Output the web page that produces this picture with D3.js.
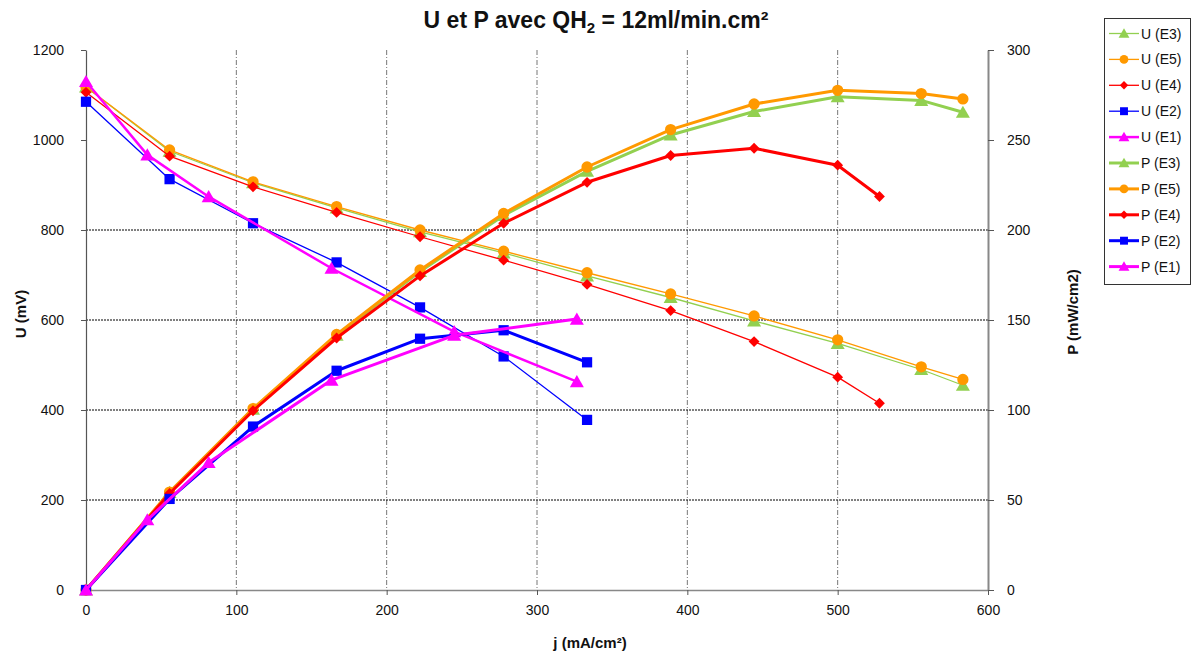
<!DOCTYPE html>
<html><head><meta charset="utf-8">
<script src="https://cdn.jsdelivr.net/npm/d3@7"></script>
<style>
body{margin:0;background:#fff;}
svg{display:block;font-family:"Liberation Sans",Arial,sans-serif;}
</style></head>
<body><svg id="c" width="1193" height="654"></svg>
<script>
// ---- data ----
const xE35 = [0, 55.6, 111.1, 166.7, 222.2, 277.8, 333.3, 388.9, 444.4, 500, 555.6, 583.3];
const xE4  = [0, 55.6, 111.1, 166.7, 222.2, 277.8, 333.3, 388.9, 444.4, 500, 527.8];
const xE2  = [0, 55.6, 111.1, 166.7, 222.2, 277.8, 333.3];
const xE1  = [0, 40.8, 81.6, 163.3, 244.9, 326.5];

const uE3 = [1118, 975, 905, 849, 796, 749, 698, 650, 598, 548, 490, 455];
const uE5 = [1118, 978, 907, 852, 800, 753, 705, 658, 609, 556, 496, 468];
const uE4 = [1106, 964, 896, 839, 785, 733, 679, 621, 552, 473, 415];
const uE2 = [1085, 913, 815, 728, 628, 519, 378];
const uE1 = [1130, 967, 874, 715, 574, 463];

const pE3 = [0, 54.2, 100.5, 141.5, 176.9, 208.1, 232.6, 252.8, 265.8, 274, 272, 265.4];
const pE5 = [0, 54.4, 100.8, 142, 177.8, 209.2, 235, 255.8, 270, 277.6, 275.8, 272.8];
const pE4 = [0, 53.6, 99.6, 140, 174.5, 203.7, 226.5, 241.4, 245.4, 236, 218.6];
const pE2 = [0, 50.6, 90.8, 121.8, 139.6, 144.3, 126.5];
const pE1 = [0, 39, 70.8, 116.6, 141.5, 150.5];

const xTicks = [0, 100, 200, 300, 400, 500, 600];
const uTicks = [0, 200, 400, 600, 800, 1000, 1200];
const pTicks = [0, 50, 100, 150, 200, 250, 300];
const gridU = [200, 400, 600, 800];
const gridX = [100, 200, 300, 400, 500];

const colors = {E3:"#92D050", E5:"#FF9900", E4:"#FF0000", E2:"#0000FF", E1:"#FF00FF"};
const shapes = {E3:"tri", E5:"circle", E4:"diamond", E2:"square", E1:"tri"};

const series = [
  {name:"U (E3)", key:"E3", xs:xE35, ys:uE3, axis:"U", w:1.3},
  {name:"U (E5)", key:"E5", xs:xE35, ys:uE5, axis:"U", w:1.3},
  {name:"U (E4)", key:"E4", xs:xE4,  ys:uE4, axis:"U", w:1.3},
  {name:"U (E2)", key:"E2", xs:xE2,  ys:uE2, axis:"U", w:1.3},
  {name:"U (E1)", key:"E1", xs:xE1,  ys:uE1, axis:"U", w:2.5},
  {name:"P (E3)", key:"E3", xs:xE35, ys:pE3, axis:"P", w:3},
  {name:"P (E5)", key:"E5", xs:xE35, ys:pE5, axis:"P", w:3},
  {name:"P (E4)", key:"E4", xs:xE4,  ys:pE4, axis:"P", w:3},
  {name:"P (E2)", key:"E2", xs:xE2,  ys:pE2, axis:"P", w:3},
  {name:"P (E1)", key:"E1", xs:xE1,  ys:pE1, axis:"P", w:3}
];

// ---- layout ----
const L = 86, R = 988, T = 50, B = 590;
const svg = d3.select("#c");
const x = d3.scaleLinear().domain([0, 600]).range([L, R]);
const yU = d3.scaleLinear().domain([0, 1200]).range([B, T]);
const yP = d3.scaleLinear().domain([0, 300]).range([B, T]);

// gridlines
svg.append("g").selectAll("line").data(gridX).join("line")
  .attr("x1", d => x(d)).attr("x2", d => x(d)).attr("y1", T).attr("y2", B)
  .attr("stroke", "#777").attr("stroke-width", 1).attr("stroke-dasharray", "5,2,1,2");
svg.append("g").selectAll("line").data(gridU).join("line")
  .attr("x1", L).attr("x2", R).attr("y1", d => yU(d)).attr("y2", d => yU(d))
  .attr("stroke", "#000").attr("stroke-width", 1).attr("stroke-dasharray", "2,1");

// axes
const fs = 14;
const fmt = d3.format("d");
const axB = svg.append("g").attr("transform", `translate(0,${B})`)
  .call(d3.axisBottom(x).tickValues(xTicks).tickFormat(fmt).tickSize(5).tickSizeOuter(0).tickPadding(10));
const axL = svg.append("g").attr("transform", `translate(${L},0)`)
  .call(d3.axisLeft(yU).tickValues(uTicks).tickFormat(fmt).tickSize(5).tickSizeOuter(0).tickPadding(17));
const axR = svg.append("g").attr("transform", `translate(${R},0)`)
  .call(d3.axisRight(yP).tickValues(pTicks).tickFormat(fmt).tickSize(6).tickSizeOuter(0).tickPadding(13));
[axB, axL, axR].forEach(a => {
  a.selectAll("text").attr("font-size", fs).attr("fill", "#111")
    .attr("font-family", '"Liberation Sans",Arial,sans-serif');
  a.selectAll(".tick line").attr("stroke", "#555");
});
axB.select(".domain").attr("stroke", "#888").attr("stroke-width", 1.5);
axL.select(".domain").attr("stroke", "#555").attr("stroke-width", 1.2);
axR.select(".domain").attr("stroke", "#888").attr("stroke-width", 2);

// marker generator
function markerPath(shape, k) {
  k = k || 1;
  if (shape === "tri") return d3.symbol(d3.symbolTriangle, 85 * k)();
  if (shape === "circle") return d3.symbol(d3.symbolCircle, 100 * k)();
  if (shape === "diamond") return d3.symbol(d3.symbolDiamond2, 75 * k)();
  return d3.symbol(d3.symbolSquare, 105 * k)();
}

// series
series.forEach(s => {
  const ys = s.axis === "U" ? yU : yP;
  const pts = s.xs.map((v, i) => [x(v), ys(s.ys[i])]);
  const g = svg.append("g");
  g.append("path").attr("d", d3.line()(pts)).attr("fill", "none")
    .attr("stroke", colors[s.key]).attr("stroke-width", s.w)
    .attr("stroke-linejoin", "round");
  const dy = shapes[s.key] === "tri" ? 1.5 : 0;
  g.selectAll("path.m").data(pts).join("path").attr("class", "m")
    .attr("d", markerPath(shapes[s.key]))
    .attr("transform", d => `translate(${d[0]},${d[1] + dy})`)
    .attr("fill", colors[s.key]);
});

// title
const title = svg.append("text").attr("x", 596).attr("y", 28).attr("text-anchor", "middle")
  .attr("font-size", 23).attr("font-weight", "bold").attr("fill", "#111");
title.append("tspan").text("U et P avec QH");
title.append("tspan").text("2").attr("font-size", 15).attr("dy", 5);
title.append("tspan").text(" = 12ml/min.cm²").attr("dy", -5);

// axis titles
svg.append("text").attr("x", 590).attr("y", 648).attr("text-anchor", "middle")
  .attr("font-size", 15).attr("font-weight", "bold").attr("fill", "#111").text("j (mA/cm²)");
svg.append("text").attr("transform", "translate(26,314) rotate(-90)").attr("text-anchor", "middle")
  .attr("font-size", 15).attr("font-weight", "bold").attr("fill", "#111").text("U (mV)");
svg.append("text").attr("transform", "translate(1078,312) rotate(-90)").attr("text-anchor", "middle")
  .attr("font-size", 15).attr("font-weight", "bold").attr("fill", "#111").text("P (mW/cm2)");

// legend
const lg = svg.append("g");
lg.append("rect").attr("x", 1104.5).attr("y", 18.5).attr("width", 86).attr("height", 266)
  .attr("fill", "#fff").attr("stroke", "#333").attr("stroke-width", 1);
series.forEach((s, i) => {
  const cy = 33.5 + i * 25.9;
  lg.append("line").attr("x1", 1109).attr("x2", 1139).attr("y1", cy).attr("y2", cy)
    .attr("stroke", colors[s.key]).attr("stroke-width", s.w);
  lg.append("path").attr("d", markerPath(shapes[s.key], 0.6))
    .attr("transform", `translate(1124,${cy + (shapes[s.key] === "tri" ? 1 : 0)})`)
    .attr("fill", colors[s.key]);
  lg.append("text").attr("x", 1141).attr("y", cy + 5).attr("font-size", 14)
    .attr("fill", "#111").text(s.name);
});
</script></body></html>
